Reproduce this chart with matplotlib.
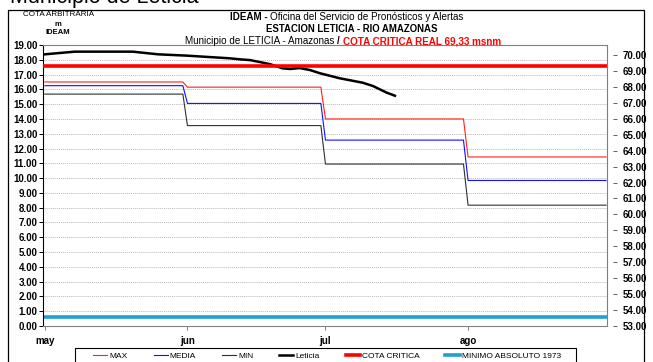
import matplotlib
matplotlib.use('Agg')
import matplotlib.pyplot as plt
from matplotlib.patches import Rectangle
from matplotlib.ticker import FormatStrFormatter

plt.rcParams['font.family'] = ['Liberation Sans', 'DejaVu Sans']

# days counted from 1 May
month_days = [0, 31, 61, 92]
month_labels = ['may', 'jun', 'jul', 'ago']
last_day = 122

# monthly reference levels (m, arbitrary datum)
max_vals = [16.50, 16.15, 14.00, 11.43]
media_vals = [16.25, 15.05, 12.57, 9.84]
min_vals = [15.68, 13.55, 10.95, 8.17]

# observed stage at Leticia
leticia_day = [0, 6.5, 19.1, 24.6, 30.9, 40.2, 42.4, 44.6, 48.9, 51.7, 53.3,
               55.4, 57.6, 59.8, 64.1, 69.1, 71.3, 74.3, 76.1]
leticia_lvl = [18.37, 18.55, 18.55, 18.37, 18.28, 18.10, 18.03, 17.98, 17.71,
               17.42, 17.38, 17.44, 17.31, 17.09, 16.75, 16.45, 16.23, 15.78,
               15.57]

cota_critica = 69.33      # msnm, right axis
minimo_1973 = 0.58        # m, left axis


def steps(vals):
    """Monthly constant levels, one-day ramp into the next month."""
    xs, ys = [], []
    ends = month_days[1:] + [last_day + 1]
    for start, end, v in zip(month_days, ends, vals):
        xs += [start, end - 1]
        ys += [v, v]
    return xs, ys


W, H = 653, 362
fig = plt.figure(figsize=(W / 100, H / 100), dpi=100)

# outer frame of the sheet
fig.add_artist(Rectangle((8 / W, -0.05), 636 / W, 1 - 10 / H + 0.05,
                         transform=fig.transFigure, fill=False,
                         edgecolor='black', linewidth=0.9))

ax = fig.add_axes([43 / W, 1 - 326 / H, 564 / W, 281 / H])
ax2 = ax.twinx()

xl = (-0.4, 122.2)

ax.plot(*steps(max_vals), color='#FF2020', lw=0.8, label='MAX')
ax.plot(*steps(media_vals), color='#1010FF', lw=0.8, label='MEDIA')
ax.plot(*steps(min_vals), color='#303030', lw=0.8, label='MIN')
ax.plot(leticia_day, leticia_lvl, color='black', lw=1.8, label='Leticia')
ax2.plot(xl, [cota_critica] * 2, color='#FF0000', lw=2.6, label='COTA CRITICA')
ax.plot(xl, [minimo_1973] * 2, color='#1FA0D2', lw=2.6,
        label='MINIMO ABSOLUTO 1973')

ax.set_xlim(*xl)
ax.set_ylim(0, 19)
ax.set_yticks(range(0, 20))
ax.yaxis.set_major_formatter(FormatStrFormatter('%.2f'))
ax.grid(axis='y', color='#B8B8B8', linestyle=(0, (1, 1)), linewidth=0.7)
ax.set_axisbelow(True)

ax.set_xticks(month_days)
ax.set_xticklabels(month_labels)

ax2.set_ylim(53, 70.63)
ax2.set_yticks(range(53, 71))
ax2.yaxis.set_major_formatter(FormatStrFormatter('%.2f'))
ax2.spines['right'].set_position(('outward', 4))
ax2.spines['right'].set_visible(False)

for s in ['top', 'bottom', 'right']:
    ax.spines[s].set_color('#808080')
for s in ['top', 'bottom', 'left']:
    ax2.spines[s].set_visible(False)
ax.spines['left'].set_color('black')

ax.tick_params(axis='y', direction='out', length=3, width=0.7, pad=1,
               labelsize=7)
ax.tick_params(axis='x', direction='out', length=3, width=0.7, pad=4,
               labelsize=7, colors='#808080', labelcolor='black')
ax2.tick_params(axis='y', direction='out', length=3, width=0.7, pad=4,
                labelsize=7, colors='#606060', labelcolor='black')
for lab in ax.get_yticklabels() + ax.get_xticklabels() + ax2.get_yticklabels():
    lab.set_fontweight('bold')

# headings
fig.text(10 / W, 1 - 3.5 / H, 'Municipio de Leticia', fontsize=15.5,
         va='baseline', ha='left')
fig.text(59 / W, 1 - 15 / H, 'COTA ARBITRARIA', fontsize=5.8, ha='center',
         va='center')
fig.text(58 / W, 1 - 25 / H, 'm', fontsize=5.5, ha='center', va='center',
         fontweight='bold')
fig.text(58 / W, 1 - 33 / H, 'IDEAM', fontsize=5.5, ha='center', va='center',
         fontweight='bold')

fig.canvas.draw()
r = fig.canvas.get_renderer()

t1 = fig.text(230 / W, 1 - 17 / H, 'IDEAM - ', fontsize=7.1, ha='left',
              va='center', fontweight='bold')
bb = t1.get_window_extent(r)
fig.text(bb.x1 / W, 1 - 17 / H, 'Oficina del Servicio de Pronósticos y Alertas',
         fontsize=7.1, ha='left', va='center')
fig.text(352 / W, 1 - 29 / H, 'ESTACION LETICIA - RIO AMAZONAS', fontsize=6.9,
         ha='center', va='center', fontweight='bold')

t3 = fig.text(185 / W, 1 - 41 / H, 'Municipio de LETICIA - Amazonas ',
              fontsize=7.1, ha='left', va='center')
bb = t3.get_window_extent(r)
t4 = fig.text(bb.x1 / W, 1 - 41 / H, '/ ', fontsize=7.1, ha='left',
              va='center', fontweight='bold')
bb = t4.get_window_extent(r)
fig.text(bb.x1 / W, 1 - 41 / H, 'COTA CRITICA REAL 69,33 msnm', fontsize=7.1,
         ha='left', va='center', fontweight='bold', color='#FF0000')

# legend along the bottom, boxed separately
fig.add_artist(Rectangle((75 / W, -0.05), 501 / W, 1 - 347.5 / H + 0.05,
                         transform=fig.transFigure, fill=False,
                         edgecolor='black', linewidth=0.8))
h1, l1 = ax.get_legend_handles_labels()
h2, l2 = ax2.get_legend_handles_labels()
order = ['MAX', 'MEDIA', 'MIN', 'Leticia', 'COTA CRITICA', 'MINIMO ABSOLUTO 1973']
lookup = dict(zip(l1 + l2, h1 + h2))
fig.legend([lookup[k] for k in order], order, loc='center',
           bbox_to_anchor=(327 / W, 1 - 356 / H), ncol=6,
           fontsize=6, frameon=False, handlelength=1.7, handletextpad=0.25,
           columnspacing=3.1, borderpad=0)

fig.savefig('out.png', dpi=100)
